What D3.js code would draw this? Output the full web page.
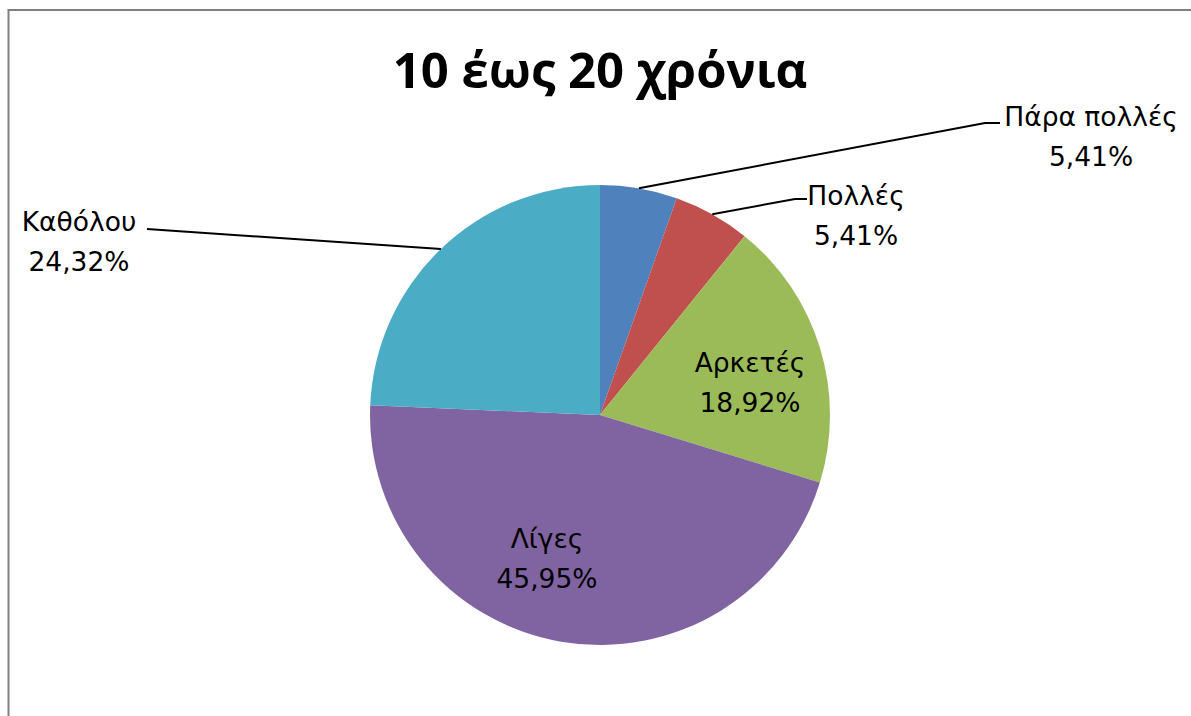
<!DOCTYPE html>
<html>
<head>
<meta charset="utf-8">
<script src="https://cdn.jsdelivr.net/npm/d3@7"></script>
<style>
  html, body { margin: 0; padding: 0; background: #fff; }
  svg { display: block; }
</style>
</head>
<body>
<svg id="chart" width="1191" height="716"></svg>
<script>
const title = "10 έως 20 χρόνια";
const categories = ["Πάρα πολλές", "Πολλές", "Αρκετές", "Λίγες", "Καθόλου"];
const values = [5.41, 5.41, 18.92, 45.95, 24.32];
const valueLabels = ["5,41%", "5,41%", "18,92%", "45,95%", "24,32%"];
const colors = ["#4F81BD", "#C0504D", "#9BBB59", "#8064A2", "#4BACC6"];

// layout
const W = 1191, H = 716;
const cx = 600, cy = 415, R = 230;
const labelLayout = [
  {x: 1091, y: 126, outside: true, lx: 1000, ly: 123, bend: 985},
  {x: 856,  y: 205, outside: true, lx: 807, ly: 199, bend: 795},
  {x: 750,  y: 372, outside: false},
  {x: 547,  y: 548, outside: false},
  {x: 79,   y: 231, outside: true, lx: 147, ly: 229, bend: null}
];

const svg = d3.select("#chart");

svg.append("rect")
  .attr("x", 8.5).attr("y", 10)
  .attr("width", 1200).attr("height", 800)
  .attr("fill", "#fff")
  .attr("stroke", "#808080")
  .attr("stroke-width", 2);

svg.append("text")
  .attr("x", cx).attr("y", 88)
  .attr("text-anchor", "middle")
  .attr("font-family", "'Open Sans', 'Noto Sans', sans-serif")
  .attr("font-weight", "bold")
  .attr("font-size", 49)
  .attr("fill", "#000")
  .text(title);

const pie = d3.pie().sort(null).value(d => d)
  .startAngle(0).endAngle(2 * Math.PI);
const arcs = pie(values);
const arc = d3.arc().innerRadius(0).outerRadius(R);
const edgeArc = d3.arc().innerRadius(R).outerRadius(R);

const g = svg.append("g").attr("transform", `translate(${cx},${cy})`);
g.selectAll("path.slice")
  .data(arcs)
  .enter().append("path")
  .attr("class", "slice")
  .attr("d", arc)
  .attr("fill", (d, i) => colors[i]);

arcs.forEach((d, i) => {
  const L = labelLayout[i];
  if (!L.outside) return;
  const c = edgeArc.centroid(d);
  const pts = [[cx + c[0], cy + c[1]]];
  if (L.bend !== null) pts.push([L.bend, L.ly]);
  pts.push([L.lx, L.ly]);
  svg.append("path")
    .attr("d", d3.line()(pts))
    .attr("fill", "none")
    .attr("stroke", "#000")
    .attr("stroke-width", 2);
});

arcs.forEach((d, i) => {
  const L = labelLayout[i];
  const t = svg.append("text")
    .attr("text-anchor", "middle")
    .attr("font-family", "'DejaVu Sans', sans-serif")
    .attr("font-size", 26.5)
    .attr("fill", "#000");
  t.append("tspan").attr("x", L.x).attr("y", L.y).text(categories[i]);
  t.append("tspan").attr("x", L.x).attr("y", L.y + 40).text(valueLabels[i]);
});
</script>
</body>
</html>
